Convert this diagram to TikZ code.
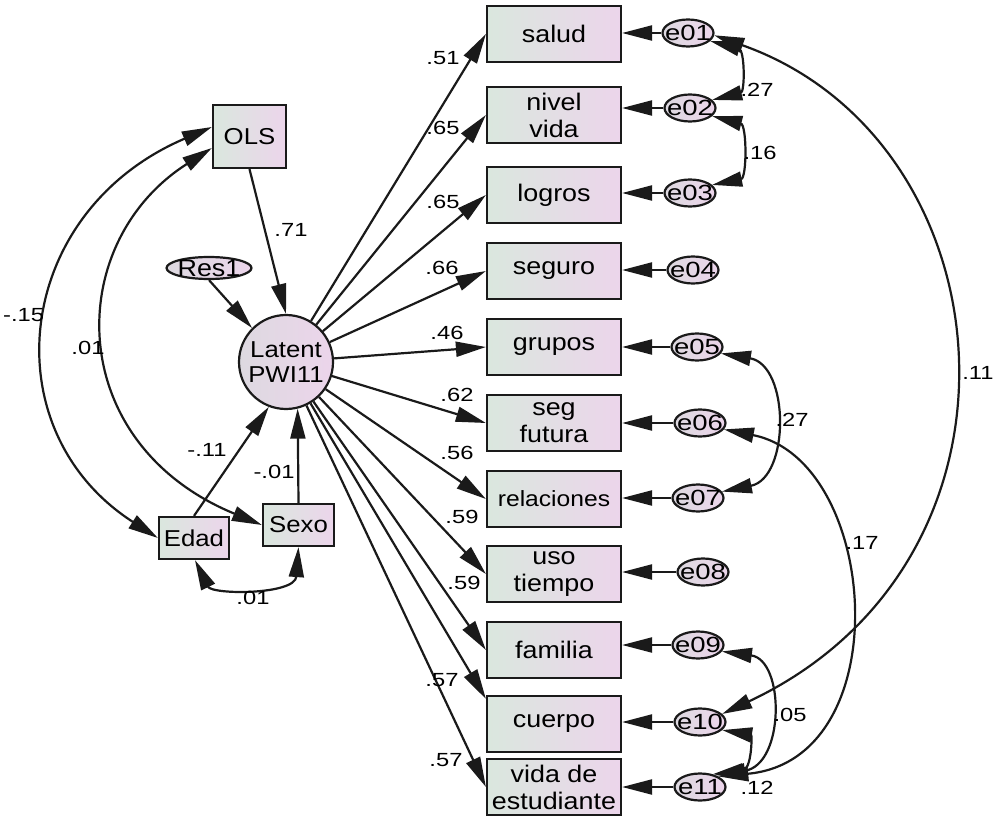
\documentclass[tikz,border=0pt]{standalone}
\usepackage{fontspec}
\setmainfont{Liberation Sans}[FakeStretch=1.12]
\newfontfamily\lblf{Liberation Sans}[FakeStretch=1.25]
\usetikzlibrary{arrows.meta,shapes.geometric}
\definecolor{gl}{HTML}{DAE7DE}
\definecolor{pr}{HTML}{ECD5EB}
\definecolor{eg}{HTML}{DDD9E0}
\definecolor{ink}{HTML}{1A1A1A}
\newcommand\ztxt[1]{\smash{\makebox[0pt]{\raisebox{-0.36em}{#1}}}}
\begin{document}
\begin{tikzpicture}[x=1pt,y=-1pt,line width=2.2pt,draw=ink,
  >={Triangle[length=30pt,width=15pt]},
  obs/.style={draw,rectangle,minimum width=134pt,minimum height=56pt,inner sep=0pt,
    left color=gl,right color=pr,align=center,font=\fontsize{24}{27}\selectfont},
  err/.style={draw,ellipse,minimum width=51pt,minimum height=27pt,inner sep=0pt,
    left color=eg,right color=pr,font=\lblf\fontsize{22}{24}\selectfont},
  lab/.style={inner sep=0pt,font=\lblf\fontsize{19}{21}\selectfont},
  arr/.style={->},
  cov/.style={<->}]
\useasboundingbox (0,0) rectangle (993,818);

% exogenous side
\node[obs,minimum width=73pt,minimum height=63pt,font=\fontsize{23}{24}\selectfont] (OLS) at (249.5,136.5) {OLS};
\node[obs,minimum width=70pt,minimum height=42pt,font=\fontsize{23}{24}\selectfont] (Edad) at (194,538) {Edad};
\node[obs,minimum width=71pt,minimum height=42pt,font=\fontsize{23}{24}\selectfont] (Sexo) at (298.5,525) {Sexo};
\node[draw,ellipse,minimum width=85pt,minimum height=22pt,inner sep=0pt,left color=eg,right color=pr,
  font=\fontsize{24}{25}\selectfont] (Res1) at (209,268) {\ztxt{Res1}};
\node[draw,circle,minimum size=94pt,inner sep=0pt,left color=eg,right color=pr,align=center,
  font=\fontsize{23}{25}\selectfont] (L) at (286,362) {Latent\\PWI11};

% observed indicators
\node[obs] (s1) at (554,34) {salud};
\node[obs] (s2) at (554,115) {nivel\\vida};
\node[obs] (s3) at (554,195) {logros};
\node[obs] (s4) at (554,271) {seguro};
\node[obs] (s5) at (554,347) {grupos};
\node[obs] (s6) at (554,423) {seg\\futura};
\node[obs,font=\fontsize{22}{24}\selectfont] (s7) at (554,499) {relaciones};
\node[obs] (s8) at (554,574) {uso\\tiempo};
\node[obs] (s9) at (554,650) {familia};
\node[obs] (s10) at (554,724) {cuerpo};
\node[obs] (s11) at (554,787) {vida de\\estudiante};

% errors
\node[err] (e01) at (688,33) {\ztxt{e01}};
\node[err] (e02) at (690,108) {\ztxt{e02}};
\node[err] (e03) at (690,193) {\ztxt{e03}};
\node[err] (e04) at (693,270) {\ztxt{e04}};
\node[err] (e05) at (697,347) {\ztxt{e05}};
\node[err] (e06) at (700,423) {\ztxt{e06}};
\node[err] (e07) at (698,498) {\ztxt{e07}};
\node[err] (e08) at (703,572) {\ztxt{e08}};
\node[err] (e09) at (698,645) {\ztxt{e09}};
\node[err] (e10) at (700,722) {\ztxt{e10}};
\node[err] (e11) at (700,787) {\ztxt{e11}};

% regressions into latent
\draw[arr] (OLS.south) -- (L.north);
\draw[arr] (Res1.south) -- (L.135);
\draw[arr] (Edad.north) -- (L.249);
\draw[arr] (Sexo.north) -- (L.284);

% loadings
\draw[arr] (L) -- (s1.west);
\draw[arr] (L) -- (s2.west);
\draw[arr] (L) -- (s3.west);
\draw[arr] (L) -- (s4.west);
\draw[arr] (L) -- (s5.west);
\draw[arr] (L) -- (s6.west);
\draw[arr] (L) -- (s7.west);
\draw[arr] (L) -- (s8.west);
\draw[arr] (L) -- (s9.west);
\draw[arr] (L) -- ([yshift=-4pt]s10.north west);
\draw[arr] (L) -- (s11.west);

% errors to indicators
\draw[arr] (e01) -- (e01 -| s1.east);
\draw[arr] (e02) -- (e02 -| s2.east);
\draw[arr] (e03) -- (e03 -| s3.east);
\draw[arr] (e04) -- (e04 -| s4.east);
\draw[arr] (e05) -- (e05 -| s5.east);
\draw[arr] (e06) -- (e06 -| s6.east);
\draw[arr] (e07) -- (e07 -| s7.east);
\draw[arr] (e08) -- (e08 -| s8.east);
\draw[arr] (e09) -- (e09 -| s9.east);
\draw[arr] (e10) -- (e10 -| s10.east);
\draw[arr] (e11) -- (e11 -| s11.east);

% covariances left
\draw[cov] (OLS.west |- 0,127) .. controls (13,212) and (-10,430) .. (Edad.west);
\draw[cov] (OLS.west |- 0,148) .. controls (63,243) and (63,443) .. (Sexo.west);
\draw[cov] ([xshift=1pt]Edad.south) .. controls (212,595) and (295,595) .. (Sexo.south);

% covariances right
\draw[cov] (e01.-20) .. controls (745,50) and (745,92) .. (e02.20);
\draw[cov] (e02.-20) .. controls (747,125) and (747,178) .. (e03.20);
\draw[cov] (e05.-15) .. controls (790,365) and (790,478) .. (e07.15);
\draw[cov] (e01.-5) .. controls (1010,140) and (1050,560) .. (e10.20);
\draw[cov] (e06.-15) .. controls (880,460) and (900,760) .. (e11.30);
\draw[cov] (e09.-15) .. controls (785,660) and (785,765) .. (e11.38);
\draw[cov] (e10.-20) .. controls (752,735) and (752,770) .. (e11.45);

% labels
\node[lab] (w1) at (291,230) {.71};
\node[lab,anchor=west] (w2) at (2,315) {-.15};
\node[lab] (w3) at (88,348) {.01};
\node[lab] (w4) at (207,450) {-.11};
\node[lab] (w5) at (274,472) {-.01};
\node[lab] (w6) at (253,598) {.01};
\node[lab] (k1) at (443,58) {.51};
\node[lab] (k2) at (443,128) {.65};
\node[lab] (k3) at (443,202) {.65};
\node[lab] (k4) at (442,268) {.66};
\node[lab] (k5) at (447,333) {.46};
\node[lab] (k6) at (457,395) {.62};
\node[lab] (k7) at (457,453) {.56};
\node[lab] (k8) at (462,517) {.59};
\node[lab] (k9) at (464,583) {.59};
\node[lab] (k10) at (442,680) {.57};
\node[lab] (k11) at (446,760) {.57};
\node[lab] (c1) at (757,90) {.27};
\node[lab] (c2) at (760,153) {.16};
\node[lab] (c3) at (978,373) {.11};
\node[lab] (c4) at (792,420) {.27};
\node[lab] (c5) at (862,543) {.17};
\node[lab] (c6) at (790,715) {.05};
\node[lab] (c7) at (757,788) {.12};
\end{tikzpicture}
\end{document}
